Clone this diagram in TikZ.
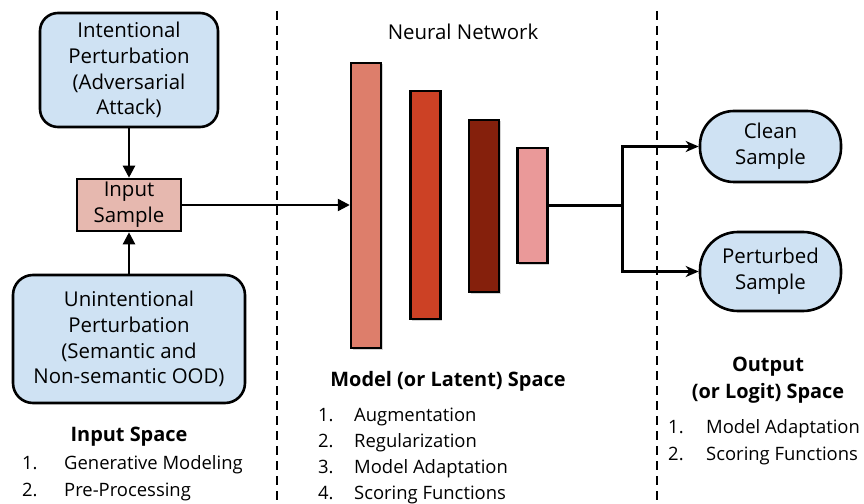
\documentclass[tikz,border=0pt]{standalone}
\usepackage{fontspec}
\setmainfont{Open Sans}
\usetikzlibrary{arrows.meta,shadows}

\definecolor{boxblue}{HTML}{CFE2F3}
\definecolor{inputred}{HTML}{E6B8AF}
\definecolor{layerA}{HTML}{DD7E6B}
\definecolor{layerB}{HTML}{CC4125}
\definecolor{layerC}{HTML}{85200C}
\definecolor{layerD}{HTML}{EA9999}

\tikzset{
  txt/.style={font=\fontsize{20.5}{26}\selectfont},
  bluebox/.style={draw=black, line width=2.6bp, fill=boxblue, align=center,
    inner sep=0pt, txt},
  inbox/.style={draw=black, line width=2.6bp, fill=inputred, align=center,
    inner sep=0pt, minimum width=104bp, minimum height=52bp, txt},
  layer/.style={draw=black, line width=2.4bp, inner sep=0pt, minimum width=30bp,
    drop shadow={shadow xshift=1.5bp, shadow yshift=-1.5bp, opacity=.35}},
  flow/.style={line width=2.3bp, -{Triangle[length=12bp,width=12bp]}},
  outflow/.style={line width=2.3bp, -{Stealth[length=13bp,width=11bp,inset=4bp]}},
  divider/.style={line width=2.3bp, dash pattern=on 9bp off 6bp},
  title/.style={font=\bfseries\fontsize{20}{27}\selectfont, align=center},
  item/.style={font=\fontsize{18.5}{26}\selectfont, inner sep=0pt, anchor=base west},
}

\begin{document}
\begin{tikzpicture}[x=1bp, y=-1bp]
\useasboundingbox (0,0) rectangle (864,504);

% region dividers
\draw[divider] (277,11) -- (277,504);
\draw[divider] (657,11) -- (657,504);

% input space
\node[bluebox, rounded corners=18bp, minimum width=178bp, minimum height=114bp]
  (intent) at (129,70) {Intentional\\Perturbation\\(Adversarial\\Attack)};
\node[inbox] (input) at (129,205) {Input\\Sample};
\node[bluebox, rounded corners=20bp, minimum width=232bp, minimum height=128bp]
  (unint) at (129,339) {Unintentional\\Perturbation\\(Semantic and\\Non-semantic OOD)};

\draw[flow] (intent.south) -- (input.north);
\draw[flow] (unint.north) -- (input.south);

\node[title] (inTitle) at (129,437) {Input Space};
\node[item] (in1n) at (22,469) {1.};
\node[item] (in1) at (64,469) {Generative Modeling};
\node[item] (in2n) at (22,496) {2.};
\node[item] (in2) at (64,496) {Pre-Processing};

% neural network layers
\node[txt] (nnTitle) at (463,32) {Neural Network};
\node[layer, fill=layerA, minimum height=285bp] (b1) at (366,205.5) {};
\node[layer, fill=layerB, minimum height=228bp] (b2) at (425.5,205) {};
\node[layer, fill=layerC, minimum height=172bp] (b3) at (484,206) {};
\node[layer, fill=layerD, minimum height=115bp] (b4) at (532.5,205.5) {};

\draw[flow] (input.east) -- (b1.west |- input.east);

\node[title] (mTitle) at (448,381) {Model (or Latent) Space};
\node[item] (m1n) at (318,421) {1.};
\node[item] (m1) at (354,421) {Augmentation};
\node[item] (m2n) at (318,447) {2.};
\node[item] (m2) at (354,447) {Regularization};
\node[item] (m3n) at (318,473) {3.};
\node[item] (m3) at (354,473) {Model Adaptation};
\node[item] (m4n) at (318,499) {4.};
\node[item] (m4) at (354,499) {Scoring Functions};

% output space
\node[bluebox, rounded corners=34bp, minimum width=141bp, minimum height=71bp]
  (clean) at (770.5,146.5) {Clean\\Sample};
\node[bluebox, rounded corners=38bp, minimum width=141bp, minimum height=79bp]
  (pert) at (770.5,271.5) {Perturbed\\Sample};

\coordinate (split) at (622.5,205.5);
\draw[line width=2.3bp] (b4.east |- split) -- (split);
\draw[outflow] (split) |- (clean.west);
\draw[outflow] (split) |- (pert.west);

\node[title] (oTitle) at (768,380) {Output\\(or Logit) Space};
\node[item] (o1n) at (668,433) {1.};
\node[item] (o1) at (706,433) {Model Adaptation};
\node[item] (o2n) at (668,460) {2.};
\node[item] (o2) at (706,460) {Scoring Functions};
\end{tikzpicture}
\end{document}
